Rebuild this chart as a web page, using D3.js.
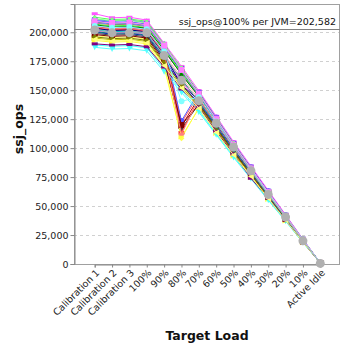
<!DOCTYPE html>
<html><head><meta charset="utf-8">
<script src="https://cdn.jsdelivr.net/npm/d3@7"></script>
<style>body{margin:0;background:#fff}svg{display:block}</style>
</head><body><svg id="c" width="348" height="348"></svg>
<script>
const categories = ["Calibration 1","Calibration 2","Calibration 3","100%","90%","80%","70%","60%","50%","40%","30%","20%","10%","Active Idle"];
const yTicks = [0,25000,50000,75000,100000,125000,150000,175000,200000];
const refValue = 202582;
const refLabel = "ssj_ops@100% per JVM=202,582";
const s1 = [208000,206500,207000,205000,186000,122000,146000,124500,102500,82000,61500,41500,20800,900];
const s2 = [211000,209500,210500,208500,189500,123500,148500,126500,104500,83500,62800,42000,21200,1000];
const s3 = [213000,211000,211500,209500,190000,169000,148000,126000,104000,83000,62000,41800,21000,950];
const s4 = [197000,195500,196000,194000,173500,108500,135000,115000,95000,76000,57000,38000,19000,850];
const s5 = [216000,212500,213000,210500,190500,170500,149500,127500,105500,84500,63500,42500,21500,1000];
const s6 = [187000,185500,186000,184000,166000,148000,131000,111500,92000,73500,55000,37000,18500,800];
const s7 = [203000,201000,201500,200000,181000,161000,142500,121000,100000,80000,60000,40000,20000,900];
const s8 = [205000,203000,203500,202000,183000,119000,143500,122000,101000,81000,60500,40500,20300,900];
const s9 = [200000,198500,199000,197000,177000,154000,139000,119000,98500,79000,59000,39500,19800,880];
const s10 = [209000,207000,207500,206000,186500,166000,146500,124500,103000,82500,62000,41200,20700,950];
const s11 = [195000,193500,194000,192000,172500,153000,136000,116000,96000,77000,57500,38500,19200,850];
const s12 = [206000,204000,204500,203000,184000,164000,145000,123500,102000,81500,61000,41000,20500,920];
const s13 = [202000,200500,201000,199000,179000,159000,140500,120000,99000,79500,59500,39800,19900,880];
const s14 = [199000,197500,198000,196000,176500,117000,138000,118000,97500,78000,58500,39000,19500,870];
const s15 = [204000,202000,202500,201000,182000,113500,143000,122000,100500,80500,60200,40300,20100,900];
const s16 = [210000,208500,209000,207000,188000,168000,147500,125500,103500,83000,62300,41600,20900,960];
const s17 = [207000,205500,206000,204000,185000,165000,145500,124000,102500,82000,61300,41100,20600,930];
const s18 = [193000,191500,192000,190000,170000,110000,134000,113000,93500,75000,56000,37500,18800,830];
const s19 = [201000,199500,200000,198000,178000,157000,140000,119500,99000,79000,59200,39600,19800,880];
const s20 = [189000,188000,188500,186500,168000,150000,132500,112500,93000,74500,55500,37200,18600,820];
const s21 = [198000,196500,197000,195000,175000,120000,137500,117000,97000,77500,58000,38800,19400,860];
const s22 = [203500,201500,202000,200500,180500,154500,141500,121000,100000,80000,60000,40000,20000,890];
const s23 = [206500,204500,205000,203500,184500,163500,144500,123000,101500,81500,61000,40800,20400,910];
const s24 = [196000,194500,195000,193000,174000,155000,137000,116500,96500,77000,57800,38600,19300,860];
const s25 = [190000,189000,189500,187500,170000,151000,135500,114500,95000,74000,57000,38000,19000,840];
const s26 = [200500,199000,199500,197500,178500,159500,140000,119000,98500,79000,59000,39500,19700,870];
const s27 = [204500,203000,203500,201500,182500,112000,143000,121500,100500,80500,60300,40200,20100,900];
const s28 = [208500,207000,207500,205500,187000,167000,146000,124000,102000,82000,61500,41300,20700,940];
const s29 = [211500,210000,210500,208000,189000,168500,147000,125000,103500,82500,61800,41500,20900,950];
const s30 = [194000,192500,193000,191000,171000,152000,134500,113500,94000,75500,56500,37800,18900,840];
const s31 = [209500,208000,208500,206500,188500,167500,147000,125000,103000,82500,62000,41500,20800,950];
const s32 = [205500,204000,204500,202500,183500,140500,144000,123000,101000,81000,60800,40600,20300,910];
const avg = [202000,199500,199500,199500,180000,158500,141000,121500,101000,80500,60000,40500,20000,500];
const seriesList = [s1,s2,s3,s4,s5,s6,s7,s8,s9,s10,s11,s12,s13,s14,s15,s16,s17,s18,s19,s20,s21,s22,s23,s24,s25,s26,s27,s28,s29,s30,s31,s32];
const palette = ["#ff5555","#5555ff","#55ff55","#ffff55","#ff55ff","#55ffff","#ffafaf","#c00000","#0000c0","#00c000","#c0c000","#c000c0","#00c0c0","#404040","#ff4040","#4040ff","#40ff40","#ffff40","#ff40ff","#40ffff","#800000","#000080","#008000","#808000","#800080","#008080","#ff8080","#8080ff","#80ff80","#ffff80","#ff80ff","#80ffff"];
const shapes = ["square","circle","up","diamond","hrect","down","ellipse","right","vrect","left"];

const svg = d3.select("#c");
const L = 74, R = 340, T = 4, B = 264;
const x = d3.scalePoint().domain(categories).range([94.7, 320.3]);
const y = d3.scaleLinear().domain([0, 224400]).range([B, T]);

svg.append("g").selectAll("line").data(yTicks.filter(d=>d>0)).join("line")
  .attr("x1", L).attr("x2", R).attr("y1", d=>Math.round(y(d))+0.5).attr("y2", d=>Math.round(y(d))+0.5)
  .attr("stroke", "#d0d0d0").attr("stroke-dasharray", "3,3").attr("stroke-width", 1);

svg.append("rect").attr("x", L+0.5).attr("y", T+0.5).attr("width", R-L-1).attr("height", B-T)
  .attr("fill", "none").attr("stroke", "#a0a0a0");

const yAxis = d3.axisLeft(y).tickValues(yTicks).tickSize(4).tickPadding(2).tickFormat(d3.format(","));
const gy = svg.append("g").attr("transform", `translate(${L+0.5},0)`).call(yAxis);
gy.select(".domain").attr("stroke", "#888");
gy.selectAll(".tick line").attr("stroke", "#888");
gy.selectAll("text").attr("font-family", "DejaVu Sans").attr("font-size", "9.5px").attr("fill", "#222");

const xAxis = d3.axisBottom(x).tickSize(3).tickFormat("");
const gx = svg.append("g").attr("transform", `translate(0,${B+0.5})`).call(xAxis);
gx.select(".domain").attr("stroke", "#888");
gx.selectAll(".tick line").attr("stroke", "#888");
svg.append("g").selectAll("text").data(categories).join("text")
  .attr("transform", d=>`translate(${x(d)+3},${B+7}) rotate(-45)`)
  .attr("text-anchor", "end").attr("dy", "0.35em")
  .attr("font-family", "DejaVu Sans").attr("font-size", "9.5px").attr("fill", "#222")
  .text(d=>d);

svg.append("line").attr("x1", L).attr("x2", R).attr("y1", Math.round(y(refValue))+0.5).attr("y2", Math.round(y(refValue))+0.5)
  .attr("stroke", "#808080").attr("stroke-width", 1.2);
svg.append("text").attr("x", R-4).attr("y", y(refValue)-4).attr("text-anchor", "end")
  .attr("font-family", "DejaVu Sans").attr("font-size", "9.5px").attr("fill", "#111").text(refLabel);

function shapePath(type, cx, cy, s) {
  const h = s/2;
  switch(type) {
    case "square": return `M${cx-h},${cy-h}h${s}v${s}h${-s}Z`;
    case "circle": return `M${cx-h},${cy}a${h},${h} 0 1,0 ${s},0a${h},${h} 0 1,0 ${-s},0Z`;
    case "up": return `M${cx},${cy-h}L${cx+h},${cy+h}L${cx-h},${cy+h}Z`;
    case "down": return `M${cx},${cy+h}L${cx+h},${cy-h}L${cx-h},${cy-h}Z`;
    case "diamond": return `M${cx},${cy-h}L${cx+h},${cy}L${cx},${cy+h}L${cx-h},${cy}Z`;
    case "hrect": return `M${cx-h},${cy-h/2}h${s}v${h}h${-s}Z`;
    case "vrect": return `M${cx-h/2},${cy-h}h${h}v${s}h${-h}Z`;
    case "ellipse": return `M${cx-h},${cy}a${h},${h/2} 0 1,0 ${s},0a${h},${h/2} 0 1,0 ${-s},0Z`;
    case "right": return `M${cx+h},${cy}L${cx-h},${cy-h}L${cx-h},${cy+h}Z`;
    case "left": return `M${cx-h},${cy}L${cx+h},${cy-h}L${cx+h},${cy+h}Z`;
  }
}

const line = d3.line().x((d,i)=>x(categories[i])).y(d=>y(d));
const plot = svg.append("g");
seriesList.forEach((vals, si) => {
  const col = palette[si % palette.length];
  const g = plot.append("g");
  g.append("path").attr("d", line(vals)).attr("fill", "none").attr("stroke", col).attr("stroke-width", 1);
  g.selectAll("path.m").data(vals).join("path").attr("class", "m")
    .attr("d", (d,i)=>shapePath(shapes[si % shapes.length], x(categories[i]), y(d), 6))
    .attr("fill", col);
});
const ga = plot.append("g");
ga.append("path").attr("d", line(avg)).attr("fill", "none").attr("stroke", "#aaaaaa").attr("stroke-width", 1);
ga.selectAll("circle").data(avg).join("circle")
  .attr("cx", (d,i)=>x(categories[i])).attr("cy", d=>y(d)).attr("r", 4.5).attr("fill", "#b0b0b0");

svg.append("text").attr("x", 207).attr("y", 340).attr("text-anchor", "middle")
  .attr("font-family", "DejaVu Sans").attr("font-weight", "bold").attr("font-size", "12.5px").attr("fill", "#111").text("Target Load");
svg.append("text").attr("transform", "translate(23,129) rotate(-90)").attr("text-anchor", "middle")
  .attr("font-family", "DejaVu Sans").attr("font-weight", "bold").attr("font-size", "12.5px").attr("fill", "#111").text("ssj_ops");
</script></body></html>
